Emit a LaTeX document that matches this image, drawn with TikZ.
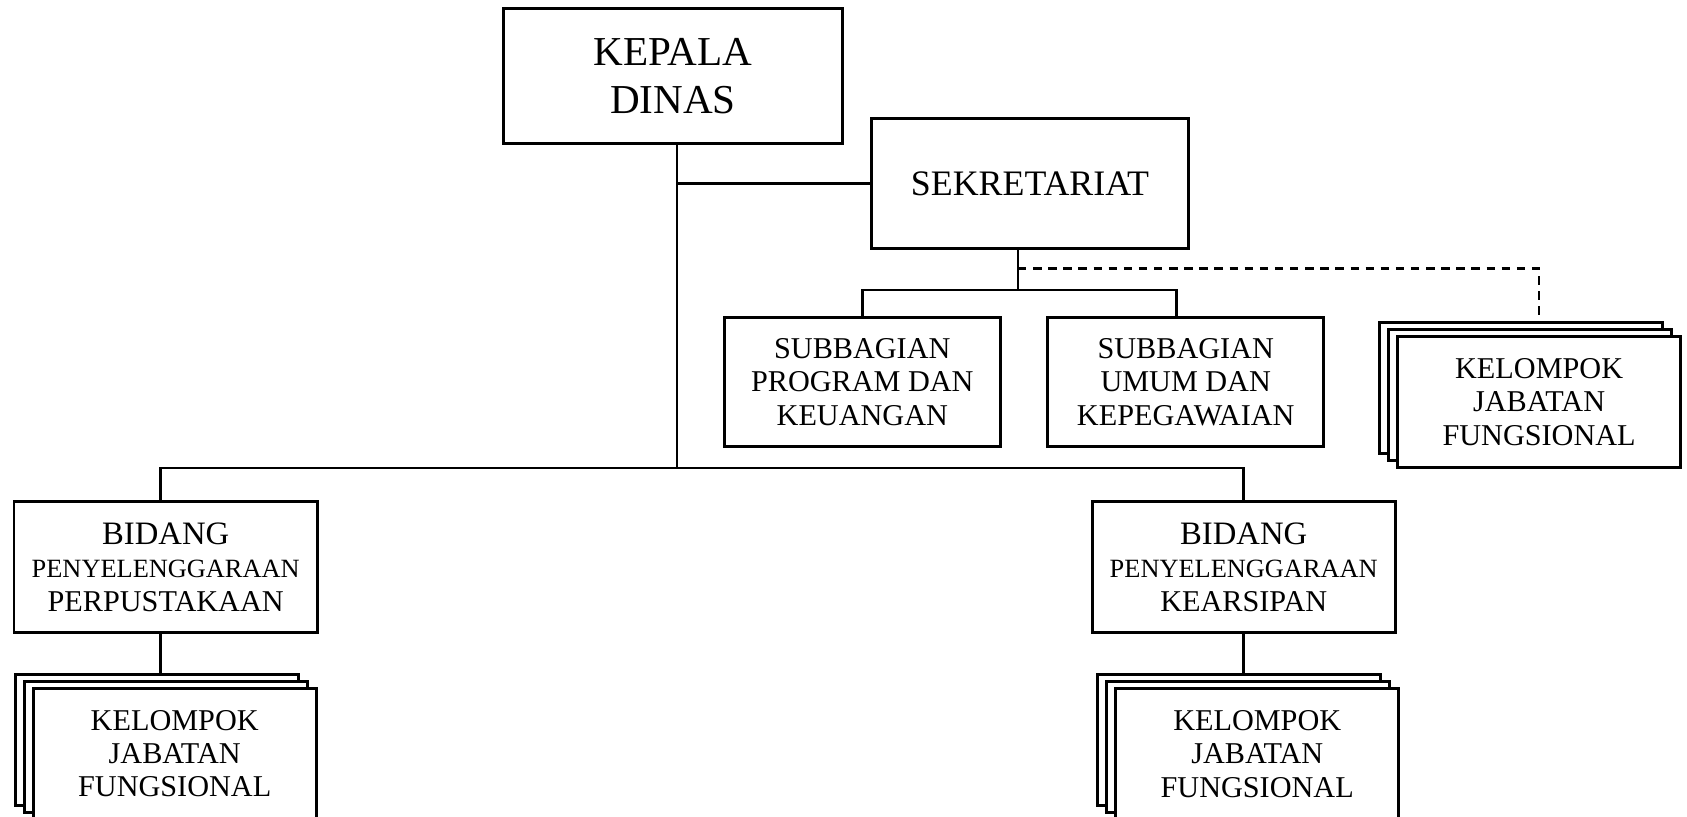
\documentclass[tikz,border=0pt]{standalone}
\usepackage{fontspec}
\setmainfont{Liberation Serif}
\usetikzlibrary{positioning}

\begin{document}
\begin{tikzpicture}[on grid,
    kotak/.style={draw, line width=0.85pt, inner sep=0pt, align=center, font=\fontsize{8.6}{9.5}\selectfont},
    tumpuk/.style={kotak, fill=white, minimum width=2.83cm, minimum height=1.31cm,
      preaction={draw, fill=white, transform canvas={shift={(-0.18cm,0.14cm)}}},
      preaction={draw, fill=white, transform canvas={shift={(-0.09cm,0.07cm)}}}},
    garis/.style={line width=0.7pt}]
  \useasboundingbox (0,0) rectangle (16.87,-8.16);

  \node[kotak, minimum width=3.39cm, minimum height=1.345cm, font=\fontsize{11.7}{13.8}\selectfont] (kepala) at (6.73,-0.76) {KEPALA\\DINAS};
  \node[kotak, minimum width=3.17cm, minimum height=1.3cm, font=\fontsize{10.2}{12}\selectfont] (sekre) [below right = 1.076cm and 3.57cm of kepala] {SEKRETARIAT};
  \node[kotak, minimum width=2.76cm, minimum height=1.295cm] (sub_1) [below left = 1.985cm and 1.677cm of sekre] {SUBBAGIAN\\PROGRAM DAN\\KEUANGAN};
  \node[kotak, minimum width=2.76cm, minimum height=1.295cm] (sub_2) [right = 3.234cm of sub_1] {SUBBAGIAN\\UMUM DAN\\KEPEGAWAIAN};
  \node[tumpuk] (kjf_3) [below right = 0.2cm and 3.534cm of sub_2] {KELOMPOK\\JABATAN\\FUNGSIONAL};
  \node[kotak, minimum width=3.034cm, minimum height=1.31cm] (bid_1) [below left = 4.911cm and 5.073cm of kepala] {{\fontsize{9.3}{9.5}\selectfont BIDANG}\\{\fontsize{7.5}{9.5}\selectfont PENYELENGGARAAN}\\PERPUSTAKAAN};
  \node[kotak, minimum width=3.034cm, minimum height=1.31cm] (bid_2) [right = 10.78cm of bid_1] {{\fontsize{9.3}{9.5}\selectfont BIDANG}\\{\fontsize{7.5}{9.5}\selectfont PENYELENGGARAAN}\\KEARSIPAN};
  \node[tumpuk] (kjf_1) [below right = 1.866cm and 0.09cm of bid_1] {KELOMPOK\\JABATAN\\FUNGSIONAL};
  \node[tumpuk] (kjf_2) [below right = 1.87cm and 0.135cm of bid_2] {KELOMPOK\\JABATAN\\FUNGSIONAL};

  \path ([xshift=-0.5mm]bid_1.north) ++(0,0.32) coordinate (cab_bid);
  \coordinate (turun) at ([xshift=0.4mm]kepala.south);
  \coordinate (atas_1) at ([yshift=1.4mm]kjf_1.north);
  \coordinate (atas_2) at ([yshift=1.4mm]kjf_2.north);

  \draw[garis] (turun) -- (turun |- cab_bid);
  \draw[garis] (sekre.west) -- (sekre.west -| turun);
  \draw[garis] ([xshift=-0.5mm]bid_1.north) -- (cab_bid) -| (bid_2.north);
  \draw[garis] ([xshift=-1.2mm]sekre.south) -- ++(0,-0.398) coordinate (cab_sub);
  \draw[garis] (sub_1.north) |- (cab_sub) -| ([xshift=-0.9mm]sub_2.north);
  \draw[garis, dash pattern=on 2.4pt off 1.9pt] ([xshift=-1.2mm, yshift=-1.83mm]sekre.south) -| ([yshift=1.4mm]kjf_3.north);
  \draw[garis] ([xshift=-0.5mm]bid_1.south) -- (cab_bid |- atas_1);
  \draw[garis] (bid_2.south) -- (bid_2.south |- atas_2);
\end{tikzpicture}
\end{document}
